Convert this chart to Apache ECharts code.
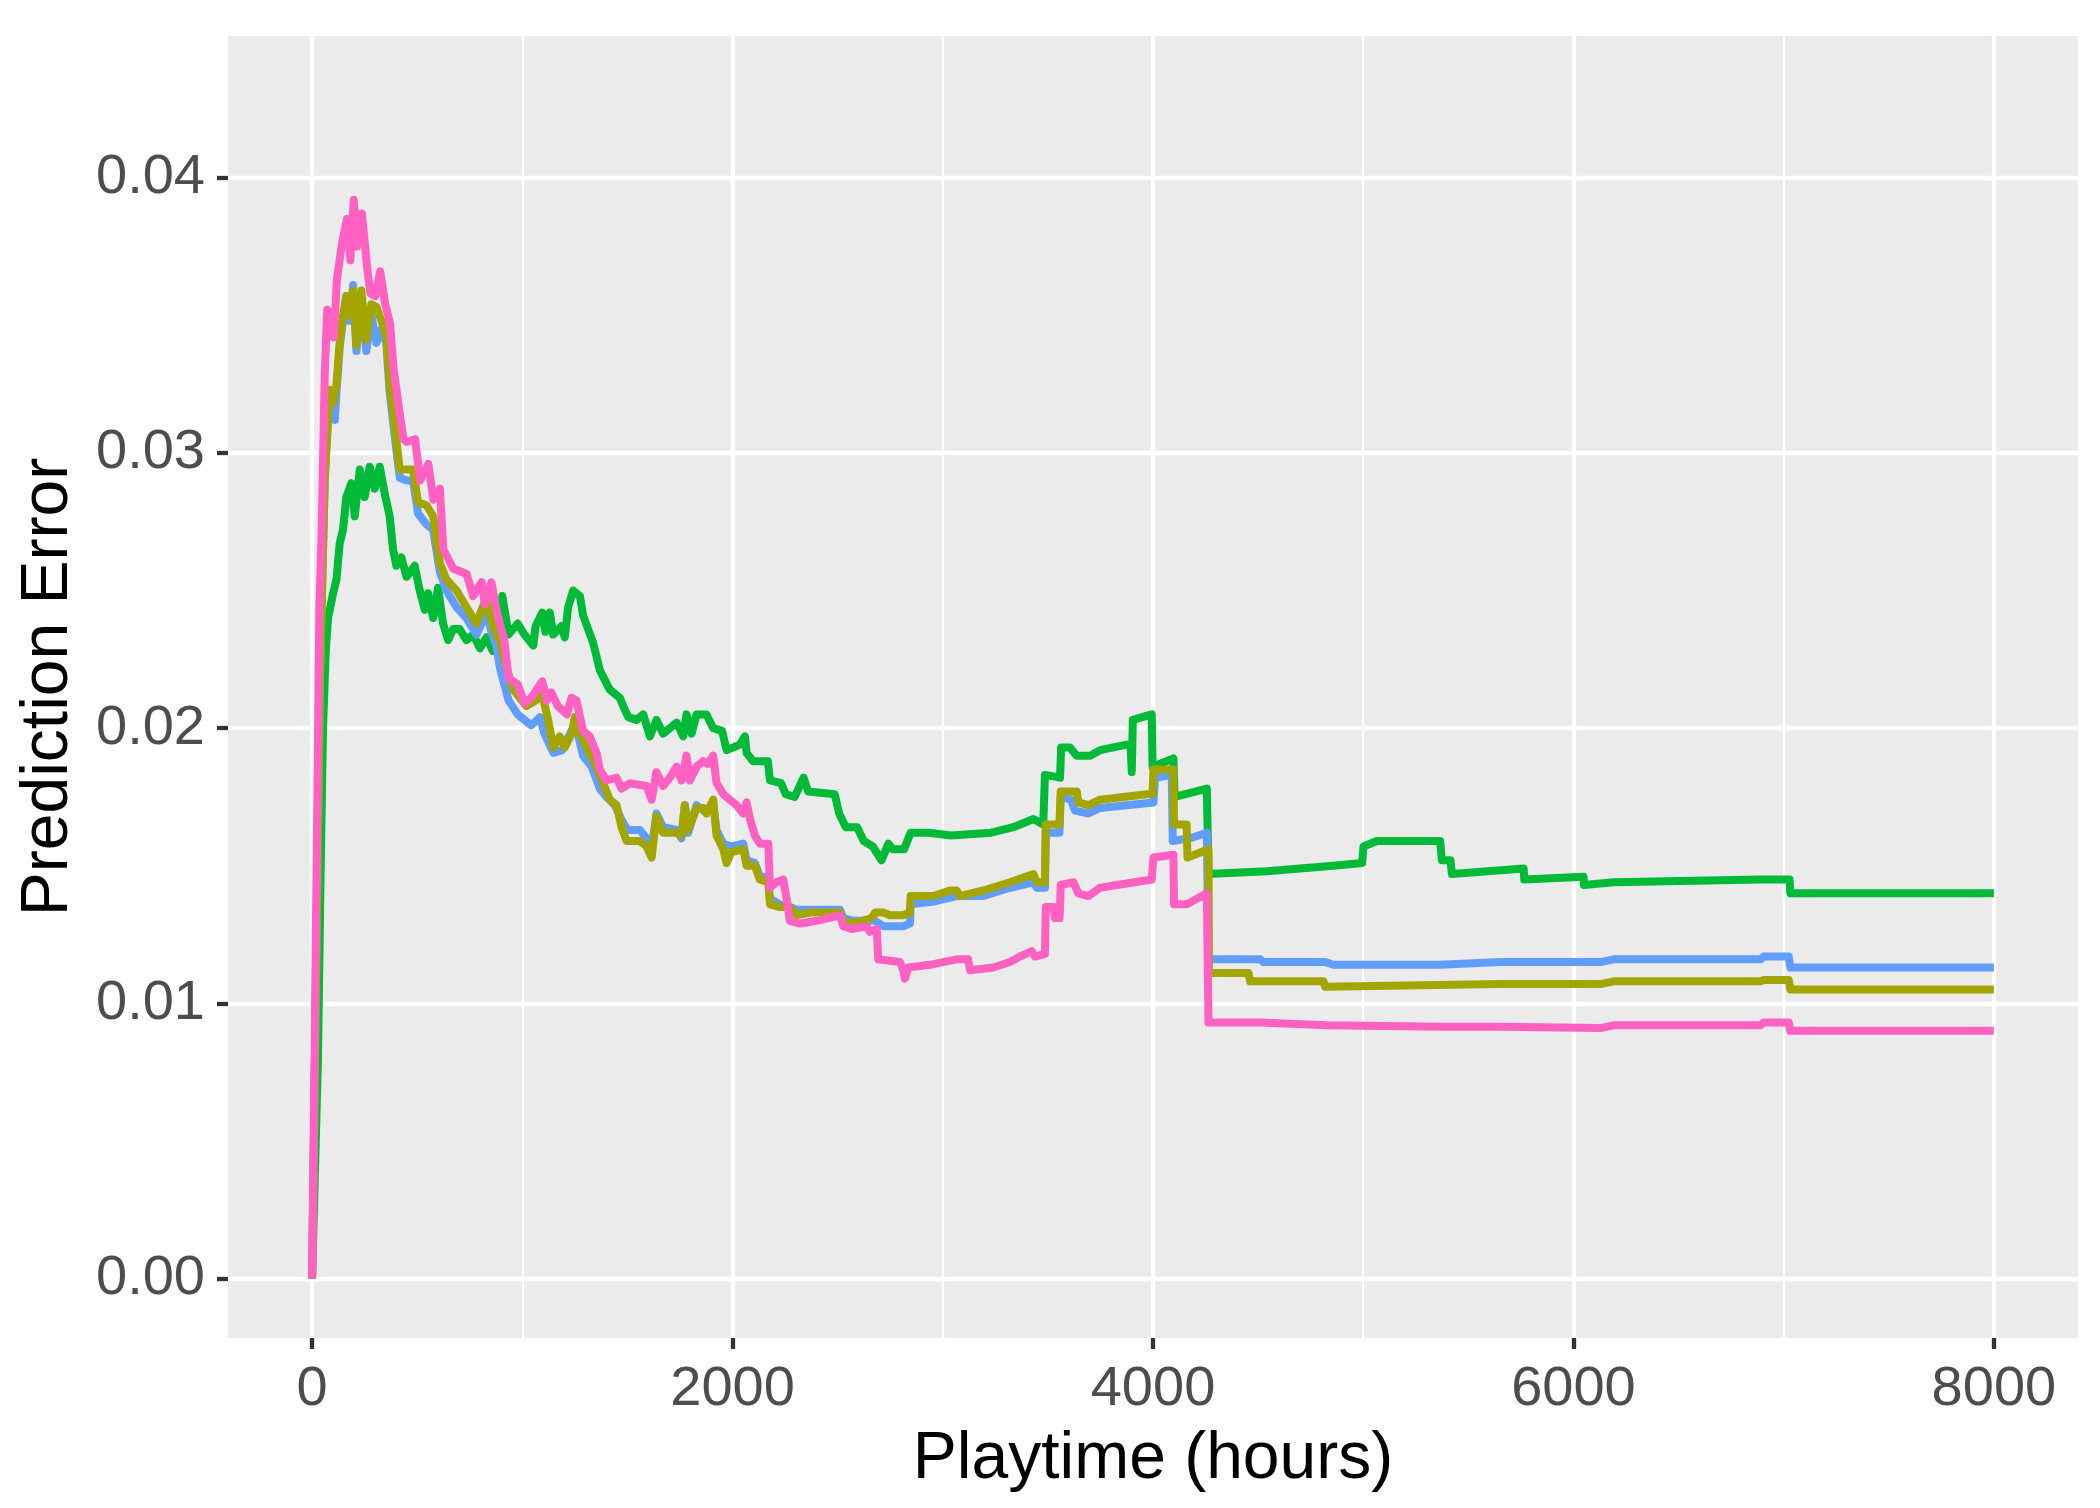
<!DOCTYPE html>
<html>
<head>
<meta charset="utf-8">
<title>Prediction Error vs Playtime</title>
<script src="https://cdn.jsdelivr.net/npm/echarts@6/dist/echarts.min.js"></script>
<style>
  html, body { margin: 0; padding: 0; background: #ffffff; }
  #chart { width: 2100px; height: 1508px; }
</style>
</head>
<body>
<div id="chart"></div>
<script>
// tick positions and grid lines
const xTicks = [0, 2000, 4000, 6000, 8000];
const xMinor = [1000, 3000, 5000, 7000];
const yTicks = [0, 0.01, 0.02, 0.03, 0.04];
const yMinor = [0.005, 0.015, 0.025, 0.035, 0.045];

// [playtime hours, prediction error]
const green = [
  [0, 0], [28, 0.0080], [40, 0.0145], [52, 0.0200], [65, 0.0228], [76, 0.0240], [100, 0.0249],
  [116, 0.0254], [131, 0.0267], [147, 0.0272], [163, 0.0284], [187, 0.0289], [203, 0.0277],
  [227, 0.0294], [250, 0.0284], [274, 0.0295], [298, 0.0287], [322, 0.0295], [346, 0.0285],
  [369, 0.0277], [385, 0.0265], [401, 0.0259], [425, 0.0262], [449, 0.0255], [488, 0.0259],
  [512, 0.0250], [536, 0.0243], [552, 0.0249], [576, 0.0240], [599, 0.0251], [623, 0.0238],
  [647, 0.0232], [671, 0.0236], [702, 0.0236], [734, 0.0232], [766, 0.0234], [798, 0.0229],
  [830, 0.0233], [860, 0.0228], [893, 0.0229], [905, 0.0248], [935, 0.0234], [978, 0.0238],
  [1010, 0.0234], [1052, 0.0230], [1063, 0.0237], [1095, 0.0242], [1110, 0.0235], [1131, 0.0242],
  [1147, 0.0234], [1186, 0.0237], [1202, 0.0233], [1218, 0.0244], [1242, 0.0250], [1274, 0.0248],
  [1289, 0.0241], [1337, 0.0231], [1369, 0.0221], [1416, 0.0214], [1464, 0.0211], [1480, 0.0208],
  [1504, 0.0204], [1543, 0.0203], [1575, 0.0205], [1607, 0.0197], [1638, 0.0203], [1670, 0.0198],
  [1734, 0.0202], [1765, 0.0197], [1781, 0.0205], [1805, 0.0198], [1829, 0.0205], [1876, 0.0205],
  [1908, 0.0200], [1950, 0.0199], [1972, 0.0192], [2035, 0.0194], [2059, 0.0197], [2067, 0.0191],
  [2098, 0.0188], [2168, 0.0188], [2178, 0.0181], [2231, 0.0180], [2253, 0.0176], [2295, 0.0175],
  [2338, 0.0182], [2360, 0.0177], [2486, 0.0176], [2507, 0.0169], [2539, 0.0164], [2593, 0.0164],
  [2624, 0.0159], [2667, 0.0157], [2709, 0.0152], [2741, 0.0158], [2762, 0.0156], [2816, 0.0156],
  [2847, 0.0162], [2932, 0.0162], [3039, 0.0161], [3230, 0.0162], [3336, 0.0164], [3431, 0.0167],
  [3478, 0.0165], [3486, 0.0183], [3558, 0.0182], [3563, 0.0193], [3605, 0.0193], [3637, 0.0190],
  [3701, 0.0190], [3748, 0.0192], [3875, 0.0194], [3893, 0.0194], [3899, 0.0184], [3904, 0.0203],
  [3994, 0.0205], [3998, 0.0186], [4097, 0.0189], [4103, 0.0175], [4256, 0.0178], [4264, 0.0147],
  [4541, 0.0148], [4858, 0.0150], [4995, 0.0151], [5001, 0.0157], [5065, 0.0159], [5366, 0.0159],
  [5374, 0.0152], [5415, 0.0152], [5422, 0.0147], [5763, 0.0149], [5766, 0.0145], [6048, 0.0146],
  [6050, 0.0143], [6191, 0.0144], [6889, 0.0145], [7028, 0.0145], [7032, 0.0140], [8000, 0.0140]
];

const blue = [
  [0, 0], [38, 0.0220], [60, 0.0290], [70, 0.0305], [84, 0.0320], [100, 0.0318], [108, 0.0312],
  [116, 0.0322], [131, 0.0338], [147, 0.0348], [163, 0.0357], [179, 0.0348], [195, 0.0361],
  [211, 0.0337], [234, 0.0357], [258, 0.0337], [282, 0.0350], [306, 0.0340], [330, 0.0345],
  [353, 0.0340], [369, 0.0322], [393, 0.0306], [417, 0.0291], [449, 0.0290], [480, 0.0290],
  [504, 0.0278], [544, 0.0274], [576, 0.0272], [607, 0.0257], [639, 0.0250], [687, 0.0244],
  [734, 0.0240], [782, 0.0234], [806, 0.0238], [829, 0.0242], [853, 0.0235], [877, 0.0230],
  [893, 0.0222], [935, 0.0210], [978, 0.0205], [1042, 0.0201], [1084, 0.0204], [1105, 0.0198],
  [1148, 0.0191], [1190, 0.0192], [1233, 0.0199], [1260, 0.0199], [1289, 0.0190], [1330, 0.0186],
  [1369, 0.0178], [1400, 0.0175], [1440, 0.0172], [1470, 0.0167], [1500, 0.0163], [1559, 0.0163],
  [1591, 0.0160], [1615, 0.0156], [1638, 0.0169], [1670, 0.0164], [1734, 0.0163], [1757, 0.0160],
  [1773, 0.0172], [1789, 0.0162], [1829, 0.0172], [1861, 0.0170], [1908, 0.0172], [1924, 0.0163],
  [1956, 0.0158], [1995, 0.0157], [2051, 0.0158], [2067, 0.0152], [2106, 0.0151], [2130, 0.0146],
  [2170, 0.0146], [2178, 0.0138], [2225, 0.0136], [2273, 0.0135], [2305, 0.0134], [2511, 0.0134],
  [2527, 0.0131], [2574, 0.0130], [2678, 0.0130], [2717, 0.0128], [2812, 0.0128], [2844, 0.0129],
  [2847, 0.0136], [2955, 0.0137], [3066, 0.0139], [3193, 0.0139], [3320, 0.0142], [3431, 0.0144],
  [3447, 0.0142], [3486, 0.0142], [3490, 0.0162], [3555, 0.0162], [3561, 0.0175], [3610, 0.0174],
  [3629, 0.0170], [3693, 0.0169], [3748, 0.0171], [4002, 0.0173], [4010, 0.0182], [4089, 0.0183],
  [4094, 0.0159], [4177, 0.0160], [4256, 0.0162], [4264, 0.0116], [4510, 0.0116], [4526, 0.0115],
  [4819, 0.0115], [4858, 0.0114], [5366, 0.0114], [5652, 0.0115], [6128, 0.0115], [6191, 0.0116],
  [6889, 0.0116], [6905, 0.0117], [7024, 0.0117], [7032, 0.0113], [8000, 0.0113]
];

const olive = [
  [0, 0], [38, 0.0220], [60, 0.0290], [68, 0.0301], [84, 0.0323], [100, 0.0318], [116, 0.0325],
  [131, 0.0340], [147, 0.0350], [163, 0.0357], [179, 0.0350], [195, 0.0359], [211, 0.0339],
  [234, 0.0359], [258, 0.0341], [282, 0.0354], [306, 0.0353], [330, 0.0348], [353, 0.0342],
  [369, 0.0325], [393, 0.0310], [417, 0.0294], [480, 0.0294], [504, 0.0282], [544, 0.0281],
  [576, 0.0277], [607, 0.0260], [639, 0.0254], [687, 0.0250], [734, 0.0244], [782, 0.0238],
  [806, 0.0243], [829, 0.0247], [853, 0.0239], [877, 0.0234], [893, 0.0232], [925, 0.0222],
  [957, 0.0214], [1020, 0.0208], [1063, 0.0210], [1095, 0.0212], [1120, 0.0204], [1148, 0.0193],
  [1178, 0.0197], [1202, 0.0193], [1234, 0.0198], [1250, 0.0204], [1274, 0.0198], [1305, 0.0193],
  [1353, 0.0186], [1385, 0.0180], [1416, 0.0174], [1448, 0.0172], [1472, 0.0164], [1496, 0.0159],
  [1559, 0.0159], [1591, 0.0157], [1615, 0.0153], [1638, 0.0168], [1670, 0.0162], [1734, 0.0162],
  [1757, 0.0161], [1773, 0.0172], [1789, 0.0163], [1829, 0.0171], [1861, 0.0171], [1876, 0.0169],
  [1908, 0.0174], [1924, 0.0161], [1956, 0.0156], [1972, 0.0151], [1995, 0.0155], [2051, 0.0156],
  [2067, 0.0150], [2106, 0.0150], [2130, 0.0145], [2170, 0.0144], [2178, 0.0136], [2225, 0.0135],
  [2273, 0.0135], [2305, 0.0132], [2368, 0.0133], [2511, 0.0133], [2527, 0.0130], [2574, 0.0129],
  [2662, 0.0131], [2678, 0.0133], [2717, 0.0133], [2749, 0.0132], [2812, 0.0132], [2844, 0.0133],
  [2847, 0.0139], [2955, 0.0139], [3034, 0.0141], [3066, 0.0141], [3082, 0.0139], [3193, 0.0141],
  [3320, 0.0144], [3431, 0.0147], [3447, 0.0144], [3486, 0.0144], [3490, 0.0165], [3555, 0.0165],
  [3561, 0.0177], [3637, 0.0177], [3645, 0.0173], [3693, 0.0172], [3748, 0.0174], [3970, 0.0176],
  [3998, 0.0176], [4002, 0.0185], [4097, 0.0185], [4100, 0.0165], [4160, 0.0165], [4164, 0.0153],
  [4264, 0.0156], [4266, 0.0111], [4454, 0.0111], [4462, 0.0108], [4811, 0.0108], [4819, 0.0106],
  [5652, 0.0107], [6128, 0.0107], [6191, 0.0108], [6889, 0.0108], [6905, 0.01085], [7024, 0.01085],
  [7032, 0.0105], [8000, 0.0105]
];

const pink = [
  [0, 0], [35, 0.0245], [45, 0.0270], [60, 0.0328], [72, 0.0352], [90, 0.0347], [103, 0.0342],
  [118, 0.0363], [142, 0.0376], [166, 0.0385], [182, 0.0370], [198, 0.0392], [213, 0.0375],
  [237, 0.0387], [261, 0.0368], [277, 0.0358], [300, 0.0357], [324, 0.0366], [348, 0.0354],
  [371, 0.0347], [387, 0.0331], [419, 0.0313], [435, 0.0305], [450, 0.0304], [490, 0.0305],
  [514, 0.0290], [553, 0.0296], [577, 0.0283], [608, 0.0287], [624, 0.0265], [671, 0.0258],
  [735, 0.0256], [766, 0.0248], [806, 0.0253], [822, 0.0245], [853, 0.0253], [877, 0.0243],
  [893, 0.0238], [914, 0.0232], [935, 0.0218], [978, 0.0216], [1010, 0.0209], [1042, 0.0211],
  [1095, 0.0217], [1116, 0.0210], [1137, 0.0213], [1169, 0.0208], [1212, 0.0205], [1234, 0.0211],
  [1258, 0.0210], [1289, 0.0199], [1321, 0.0197], [1353, 0.0191], [1369, 0.0185], [1400, 0.0181],
  [1448, 0.0182], [1472, 0.0178], [1512, 0.0180], [1591, 0.0179], [1615, 0.0174], [1638, 0.0184],
  [1670, 0.0179], [1702, 0.0182], [1734, 0.0186], [1757, 0.0181], [1781, 0.0190], [1797, 0.0181],
  [1829, 0.0186], [1861, 0.0188], [1884, 0.0187], [1908, 0.0190], [1924, 0.0180], [1956, 0.0176],
  [1987, 0.0174], [2019, 0.0172], [2051, 0.0169], [2067, 0.0173], [2083, 0.0167], [2106, 0.0161],
  [2130, 0.0158], [2170, 0.0158], [2178, 0.0142], [2210, 0.0144], [2241, 0.0145], [2257, 0.0138],
  [2273, 0.0130], [2321, 0.0129], [2400, 0.0130], [2511, 0.0132], [2527, 0.0128], [2567, 0.0127],
  [2638, 0.0128], [2654, 0.0126], [2686, 0.0127], [2693, 0.0116], [2796, 0.0115], [2812, 0.0112],
  [2820, 0.0109], [2836, 0.0113], [2939, 0.0114], [3066, 0.0116], [3120, 0.0116], [3130, 0.0112],
  [3241, 0.0113], [3320, 0.0115], [3367, 0.0117], [3423, 0.0119], [3439, 0.0117], [3486, 0.0118],
  [3490, 0.0135], [3526, 0.0135], [3534, 0.0131], [3556, 0.0131], [3561, 0.0143], [3621, 0.0144],
  [3645, 0.0140], [3693, 0.0139], [3748, 0.0142], [3994, 0.0145], [4002, 0.0153], [4097, 0.0154],
  [4100, 0.0136], [4161, 0.0136], [4256, 0.0140], [4264, 0.0093], [4510, 0.0093], [4827, 0.0092],
  [5382, 0.00915], [5652, 0.00915], [6128, 0.0091], [6191, 0.0092], [6889, 0.0092], [6905, 0.0093],
  [7024, 0.0093], [7032, 0.0090], [8000, 0.0090]
];

const chart = echarts.init(document.getElementById('chart'), null, { renderer: 'canvas' });

const font = 'Liberation Sans, Arial, Helvetica, sans-serif';

// white panel grid (major + minor) drawn as mark lines under the data
const gridLines = []
  .concat(xMinor.map(v => ({ xAxis: v, lineStyle: { color: '#ffffff', width: 2.2, type: 'solid' } })))
  .concat(yMinor.map(v => ({ yAxis: v, lineStyle: { color: '#ffffff', width: 2.2, type: 'solid' } })))
  .concat(xTicks.map(v => ({ xAxis: v, lineStyle: { color: '#ffffff', width: 4.3, type: 'solid' } })))
  .concat(yTicks.map(v => ({ yAxis: v, lineStyle: { color: '#ffffff', width: 4.3, type: 'solid' } })));

// data lines live on their own layer so the grid never paints over them
function lineSeries(name, data, color) {
  return {
    name: name,
    type: 'line',
    data: data,
    showSymbol: false,
    symbol: 'none',
    zlevel: 1,
    z: 3,
    lineStyle: { color: color, width: 8, cap: 'butt', join: 'round' },
    emphasis: { disabled: true }
  };
}

// invisible axis line, kept on the panel edge so the tick marks sit there
const hiddenAxisLine = { show: true, onZero: false, lineStyle: { color: 'rgba(0,0,0,0)', width: 0 } };

chart.setOption({
  animation: false,
  backgroundColor: '#ffffff',
  grid: {
    left: 228, right: 22, top: 36, bottom: 170,
    show: true, backgroundColor: '#EBEBEB', borderWidth: 0,
    outerBoundsMode: 'none'
  },
  xAxis: {
    type: 'value',
    min: -400, max: 8400,
    name: 'Playtime (hours)',
    nameLocation: 'middle',
    nameGap: 89,
    nameTextStyle: { fontFamily: font, fontSize: 66, color: '#000000', lineHeight: 66 },
    axisLine: hiddenAxisLine,
    axisTick: { show: true, customValues: xTicks, length: 11, lineStyle: { color: '#333333', width: 4.3 } },
    axisLabel: {
      customValues: xTicks, margin: 24, fontFamily: font, fontSize: 56, color: '#4D4D4D', lineHeight: 56,
      formatter: v => String(v)
    },
    splitLine: { show: false }
  },
  yAxis: {
    type: 'value',
    min: -0.00216, max: 0.04515,
    name: 'Prediction Error',
    nameLocation: 'middle',
    nameGap: 146,
    nameTextStyle: { fontFamily: font, fontSize: 66, color: '#000000', lineHeight: 66 },
    axisLine: hiddenAxisLine,
    axisTick: { show: true, customValues: yTicks, length: 11, lineStyle: { color: '#333333', width: 4.3 } },
    axisLabel: {
      customValues: yTicks, margin: 23, fontFamily: font, fontSize: 56, color: '#4D4D4D',
      formatter: v => v.toFixed(2)
    },
    splitLine: { show: false }
  },
  series: [
    {
      name: 'panel-grid',
      type: 'line',
      data: [],
      zlevel: 0,
      z: 1,
      silent: true,
      markLine: { silent: true, symbol: ['none', 'none'], label: { show: false }, animation: false, data: gridLines }
    },
    lineSeries('green', green, '#00BA38'),
    lineSeries('blue', blue, '#619CFF'),
    lineSeries('olive', olive, '#A3A500'),
    lineSeries('pink', pink, '#FF61C3')
  ]
});
</script>
</body>
</html>
